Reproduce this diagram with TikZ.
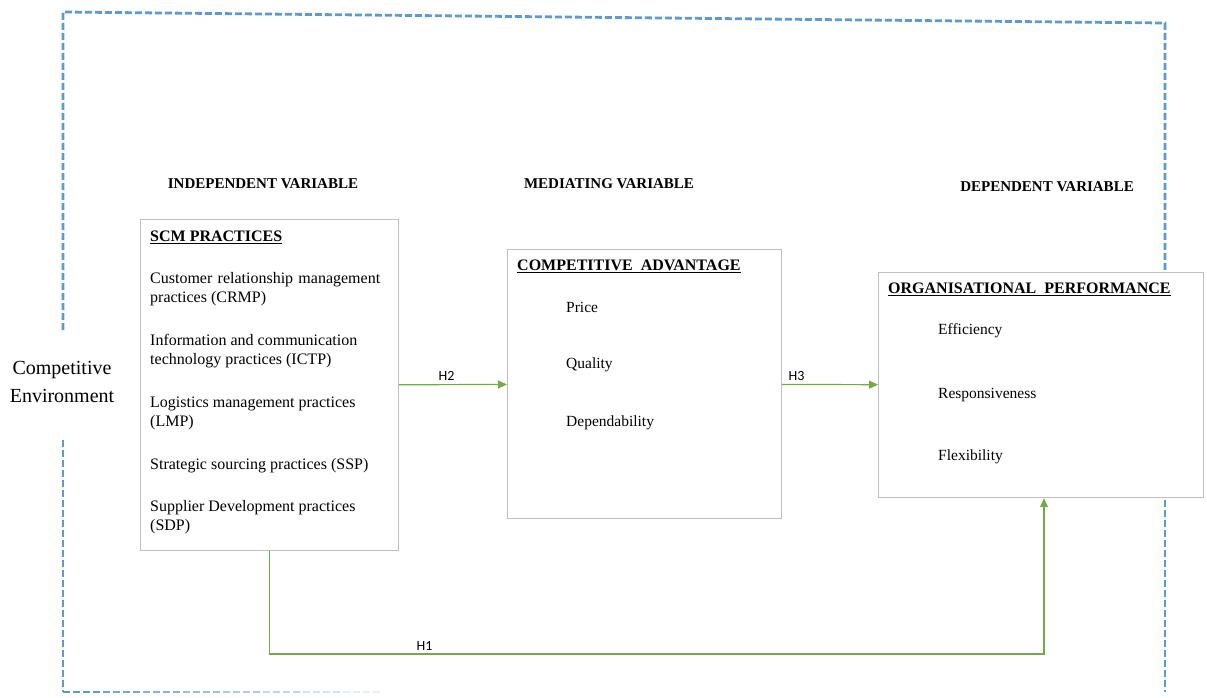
\documentclass[tikz,border=0pt]{standalone}
\usepackage{fontspec}
\setmainfont{Liberation Serif}
\newfontfamily\hfont{Carlito}
\usetikzlibrary{arrows.meta}
\definecolor{dashblue}{HTML}{5B9BD5}
\definecolor{arrgreen}{HTML}{70AD47}
\definecolor{boxgray}{HTML}{BFBFBF}

\tikzset{
	varbox/.style={draw=boxgray, line width=1.2pt, fill=white, anchor=north west, inner sep=0pt},
	envline/.style={dashblue, line width=2.8pt, dash pattern=on 7pt off 3pt},
	harrow/.style={arrgreen, line width=1.2pt, -{Triangle[length=9pt,width=8pt]}},
	hlabel/.style={text=black, font=\hfont\fontsize{14}{16}\selectfont},
	vartitle/.style={font=\bfseries\fontsize{15}{17}\selectfont},
	boxhead/.style={anchor=west, inner sep=0pt, font=\bfseries\fontsize{16}{19}\selectfont},
	item/.style={anchor=west, inner sep=0pt, align=left, font=\fontsize{15.5}{19}\selectfont},
	scmitem/.style={item, font=\fontsize{16}{19}\selectfont, text width=230pt, align=justify},
}

\begin{document}
\begin{tikzpicture}[x=1pt, y=-1pt]
			%%%%% START %%%%%
			\useasboundingbox (0, 0) rectangle (1207, 698);
			
			% competitive environment frame
			\draw[envline] (63, 330) -- (63, 12) -- (1165, 23) -- (1165, 280);
			\draw[envline] (1165, 490) -- (1165, 692);
			\draw[envline] (63, 440) -- (63, 692);
			\foreach \i [evaluate=\i as \op using 1-\i*0.12] in {0,...,7}
				\draw[envline, opacity=\op] ({63+\i*40}, 692) -- ({63+(\i+1)*40}, 692);
			\node[align=center, font=\fontsize{20}{28}\selectfont] (env) at (62, 382) {Competitive\\Environment};
			
			% variable titles
			\node[vartitle] (indep) at (263, 184) {INDEPENDENT VARIABLE};
			\node[vartitle] (media) at (609, 184) {MEDIATING VARIABLE};
			\node[vartitle] (dep) at (1047, 187) {DEPENDENT VARIABLE};
			
			% boxes
			\node[varbox, minimum width=258pt, minimum height=331pt] (scm) at (140, 219) {};
			\node[varbox, minimum width=274pt, minimum height=269pt] (ca) at (507, 249) {};
			\node[varbox, minimum width=325pt, minimum height=225pt] (op) at (878, 272) {};
			
			\node[boxhead] (scmhead) at (150, 237) {\underline{SCM PRACTICES}};
			\node[scmitem] (crmp) at (150, 289.5) {Customer relationship management practices (CRMP)};
			\node[scmitem] (ictp) at (150, 351.5) {Information and communication\\technology practices (ICTP)};
			\node[scmitem] (lmp) at (150, 413.5) {Logistics management practices\\(LMP)};
			\node[scmitem] (ssp) at (150, 466) {Strategic sourcing practices (SSP)};
			\node[scmitem] (sdp) at (150, 517.5) {Supplier Development practices\\(SDP)};
			
			\node[boxhead] (cahead) at (517, 266) {\underline{COMPETITIVE\ \ ADVANTAGE}};
			\node[item] (price) at (566, 307) {Price};
			\node[item] (quality) at (566, 365) {Quality};
			\node[item] (depend) at (566, 423) {Dependability};
			
			\node[boxhead] (ophead) at (888, 289) {\underline{ORGANISATIONAL\ \ PERFORMANCE}};
			\node[item] (effic) at (938, 331) {Efficiency};
			\node[item] (respon) at (938, 395) {Responsiveness};
			\node[item] (flex) at (938, 457) {Flexibility};
			
			% hypotheses
			\draw[harrow] (scm) -- node[hlabel, above, pos=0.44] {H2} (ca);
			\draw[harrow] (ca) -- node[hlabel, above, pos=0.15] {H3} (op);
			\coordinate (h1c) at (1044, 654);
			\draw[harrow] (scm.south) |- node[hlabel, above, pos=0.6] {H1} (h1c) -- (op.south -| h1c);
			
			%%%%% END %%%%%
\end{tikzpicture}
\end{document}
